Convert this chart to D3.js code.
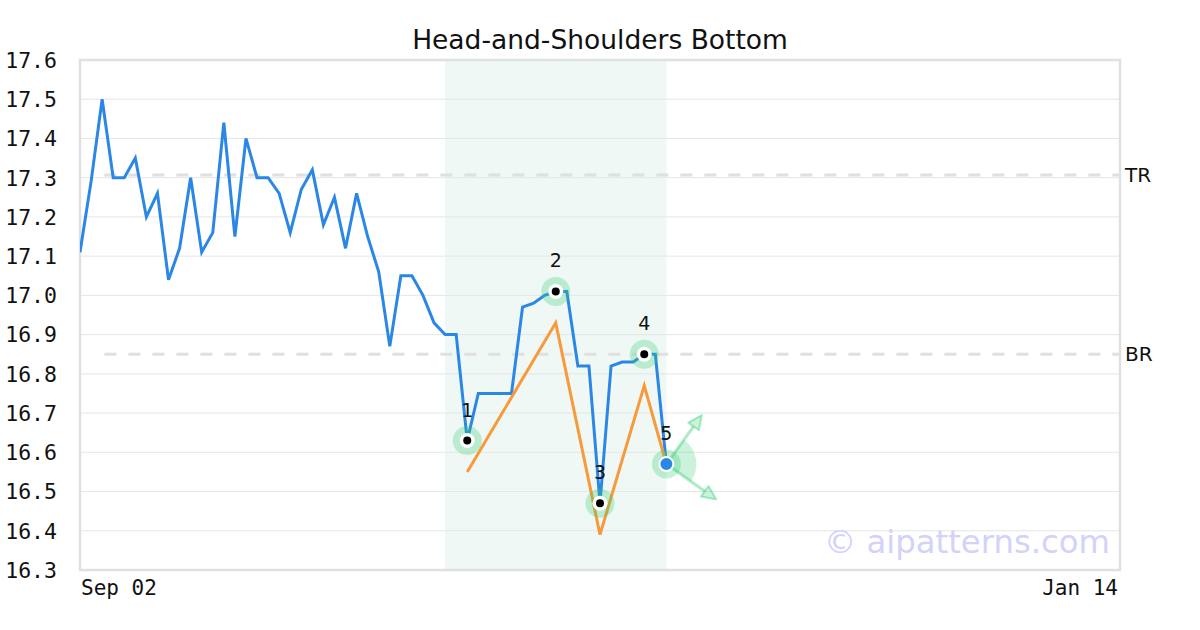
<!DOCTYPE html>
<html>
<head>
<meta charset="utf-8">
<script src="https://cdn.jsdelivr.net/npm/d3@7"></script>
<style>
  html, body { margin: 0; padding: 0; background: #fff; }
  svg { display: block; }
</style>
</head>
<body>
<svg id="chart" width="1200" height="630"></svg>
<script>
// ---- data ----
const title = "Head-and-Shoulders Bottom";
const xTickLabels = ["Sep 02", "Jan 14"];
const totalSlots = 95; // trading-day slots from Sep 02 to Jan 14
const prices = [
  17.11, 17.29, 17.50, 17.30, 17.30, 17.35, 17.20, 17.26, 17.04, 17.12,
  17.30, 17.11, 17.16, 17.44, 17.15, 17.40, 17.30, 17.30, 17.26, 17.16,
  17.27, 17.32, 17.18, 17.25, 17.12, 17.26, 17.15, 17.06, 16.87, 17.05,
  17.05, 17.00, 16.93, 16.90, 16.90, 16.63, 16.75, 16.75, 16.75, 16.75,
  16.97, 16.98, 17.00, 17.01, 17.01, 16.82, 16.82, 16.47, 16.82, 16.83,
  16.83, 16.85, 16.85, 16.57
];
const pivotIdx = [35, 43, 47, 51, 53];
const pivotLabels = ["1", "2", "3", "4", "5"];
const patternIdx = [35, 43, 47, 51, 53];
const patternVals = [16.55, 16.93, 16.39, 16.77, 16.57];
const zoneRange = [33, 53];
const levelNames = ["TR", "BR"];
const levelVals = [17.307, 16.85];
const projIdx = [56.2, 57.5];
const projVals = [16.695, 16.48];
const yTicks = [16.3, 16.4, 16.5, 16.6, 16.7, 16.8, 16.9, 17.0, 17.1, 17.2, 17.3, 17.4, 17.5, 17.6];

// ---- layout ----
const L = 80, R = 1120, T = 60, B = 570;
const svg = d3.select("#chart");
const x = d3.scaleLinear().domain([0, totalSlots - 1]).range([L, R]);
const y = d3.scaleLinear().domain([16.3, 17.6]).range([B, T]);
const mono = "'DejaVu Sans Mono', monospace";
const sans = "'DejaVu Sans', sans-serif";

// clip
svg.append("defs").append("clipPath").attr("id", "plot")
  .append("rect").attr("x", L).attr("y", T).attr("width", R - L).attr("height", B - T);

// pattern zone
svg.append("rect")
  .attr("x", x(zoneRange[0])).attr("y", T)
  .attr("width", x(zoneRange[1]) - x(zoneRange[0])).attr("height", B - T)
  .attr("fill", "#eff8f4");

// grid
svg.append("g").selectAll("line").data(yTicks.slice(1, -1)).join("line")
  .attr("x1", L).attr("x2", R)
  .attr("y1", d => y(d)).attr("y2", d => y(d))
  .attr("stroke", "#e6e6e6").attr("stroke-width", 1);

// level lines
svg.append("g").selectAll("line").data(levelVals).join("line")
  .attr("x1", x(2.2)).attr("x2", R)
  .attr("y1", d => y(d)).attr("y2", d => y(d))
  .attr("stroke", "#e0e0e0").attr("stroke-width", 3)
  .attr("stroke-dasharray", "12,12");
svg.append("g").selectAll("text").data(levelNames).join("text")
  .attr("x", R + 5).attr("y", (d, i) => y(levelVals[i]))
  .attr("dy", "0.36em")
  .attr("font-family", sans).attr("font-size", 20).attr("fill", "#111")
  .text(d => d);

// frame
svg.append("rect").attr("x", L).attr("y", T).attr("width", R - L).attr("height", B - T)
  .attr("fill", "none").attr("stroke", "#e0e0e0").attr("stroke-width", 2.5);

// y axis labels
const yAxis = d3.axisLeft(y).tickValues(yTicks).tickFormat(d3.format(".1f")).tickSize(0).tickPadding(0);
const ya = svg.append("g").attr("transform", `translate(57,0)`).call(yAxis);
ya.select(".domain").remove();
ya.selectAll("text").attr("font-family", mono).attr("font-size", 21.5).attr("fill", "#111").attr("dy", "0.34em");

// x axis labels
svg.append("text").attr("x", L + 1).attr("y", 595)
  .attr("font-family", mono).attr("font-size", 21).attr("fill", "#111")
  .text(xTickLabels[0]);
svg.append("text").attr("x", R - 2).attr("y", 595).attr("text-anchor", "end")
  .attr("font-family", mono).attr("font-size", 21).attr("fill", "#111")
  .text(xTickLabels[1]);

// title
svg.append("text").attr("x", 600).attr("y", 49).attr("text-anchor", "middle")
  .attr("font-family", sans).attr("font-size", 26.5).attr("fill", "#111")
  .text(title);

// watermark
svg.append("text").attr("x", 1110).attr("y", 553).attr("text-anchor", "end")
  .attr("font-family", sans).attr("font-size", 32.3).attr("fill", "#d2d2fb")
  .text("\u00a9 aipatterns.com");

const g = svg.append("g").attr("clip-path", "url(#plot)");

// price line
g.append("path").datum(prices)
  .attr("fill", "none").attr("stroke", "#2b87e6").attr("stroke-width", 3)
  .attr("stroke-linejoin", "miter")
  .attr("d", d3.line().x((d, i) => x(i)).y(d => y(d)));

// pattern line
g.append("path").datum(patternVals)
  .attr("fill", "none").attr("stroke", "#f89a3c").attr("stroke-width", 3)
  .attr("d", d3.line().x((d, i) => x(patternIdx[i])).y(d => y(d)));

// projection sector + arrows
const lastI = pivotIdx[4], lastV = prices[lastI];
const cx = x(lastI), cy = y(lastV);
const angs = projIdx.map((pi, k) => Math.atan2(y(projVals[k]) - cy, x(pi) - cx));
const arc = d3.arc().innerRadius(0).outerRadius(30)
  .startAngle(angs[0] + Math.PI / 2).endAngle(angs[1] + Math.PI / 2);
svg.append("path").attr("transform", `translate(${cx},${cy})`).attr("d", arc())
  .attr("fill", "#2ecc71").attr("fill-opacity", 0.25);

projIdx.forEach((pi, k) => {
  const tx = x(pi), ty = y(projVals[k]);
  const a = angs[k];
  const len = 14, w = 6.5;
  const bx = tx - len * Math.cos(a), by = ty - len * Math.sin(a);
  svg.append("line").attr("x1", cx).attr("y1", cy).attr("x2", bx).attr("y2", by)
    .attr("stroke", "#2ecc71").attr("stroke-opacity", 0.4).attr("stroke-width", 3);
  const px = -Math.sin(a), py = Math.cos(a);
  const pts = [[tx, ty], [bx + px * w, by + py * w], [bx - px * w, by - py * w]];
  svg.append("path").attr("d", "M" + pts.map(p => p.join(",")).join("L") + "Z")
    .attr("fill", "#2ecc71").attr("fill-opacity", 0.25)
    .attr("stroke", "#2ecc71").attr("stroke-opacity", 0.4).attr("stroke-width", 2)
    .attr("stroke-linejoin", "round");
});

// pivot markers
const mk = svg.append("g");
pivotIdx.forEach((pi, k) => {
  const px = x(pi), py = y(prices[pi]);
  mk.append("circle").attr("cx", px).attr("cy", py).attr("r", 14.5)
    .attr("fill", "#2ecc71").attr("fill-opacity", 0.28);
  if (k < 4) {
    mk.append("circle").attr("cx", px).attr("cy", py).attr("r", 7.5).attr("fill", "#fff");
    mk.append("circle").attr("cx", px).attr("cy", py).attr("r", 4).attr("fill", "#000");
  } else {
    mk.append("circle").attr("cx", px).attr("cy", py).attr("r", 7)
      .attr("fill", "#2b87e6").attr("stroke", "#fff").attr("stroke-width", 2);
  }
  mk.append("text").attr("x", px).attr("y", py - 24).attr("text-anchor", "middle")
    .attr("font-family", sans).attr("font-size", 19).attr("fill", "#111")
    .text(pivotLabels[k]);
});
</script>
</body>
</html>
